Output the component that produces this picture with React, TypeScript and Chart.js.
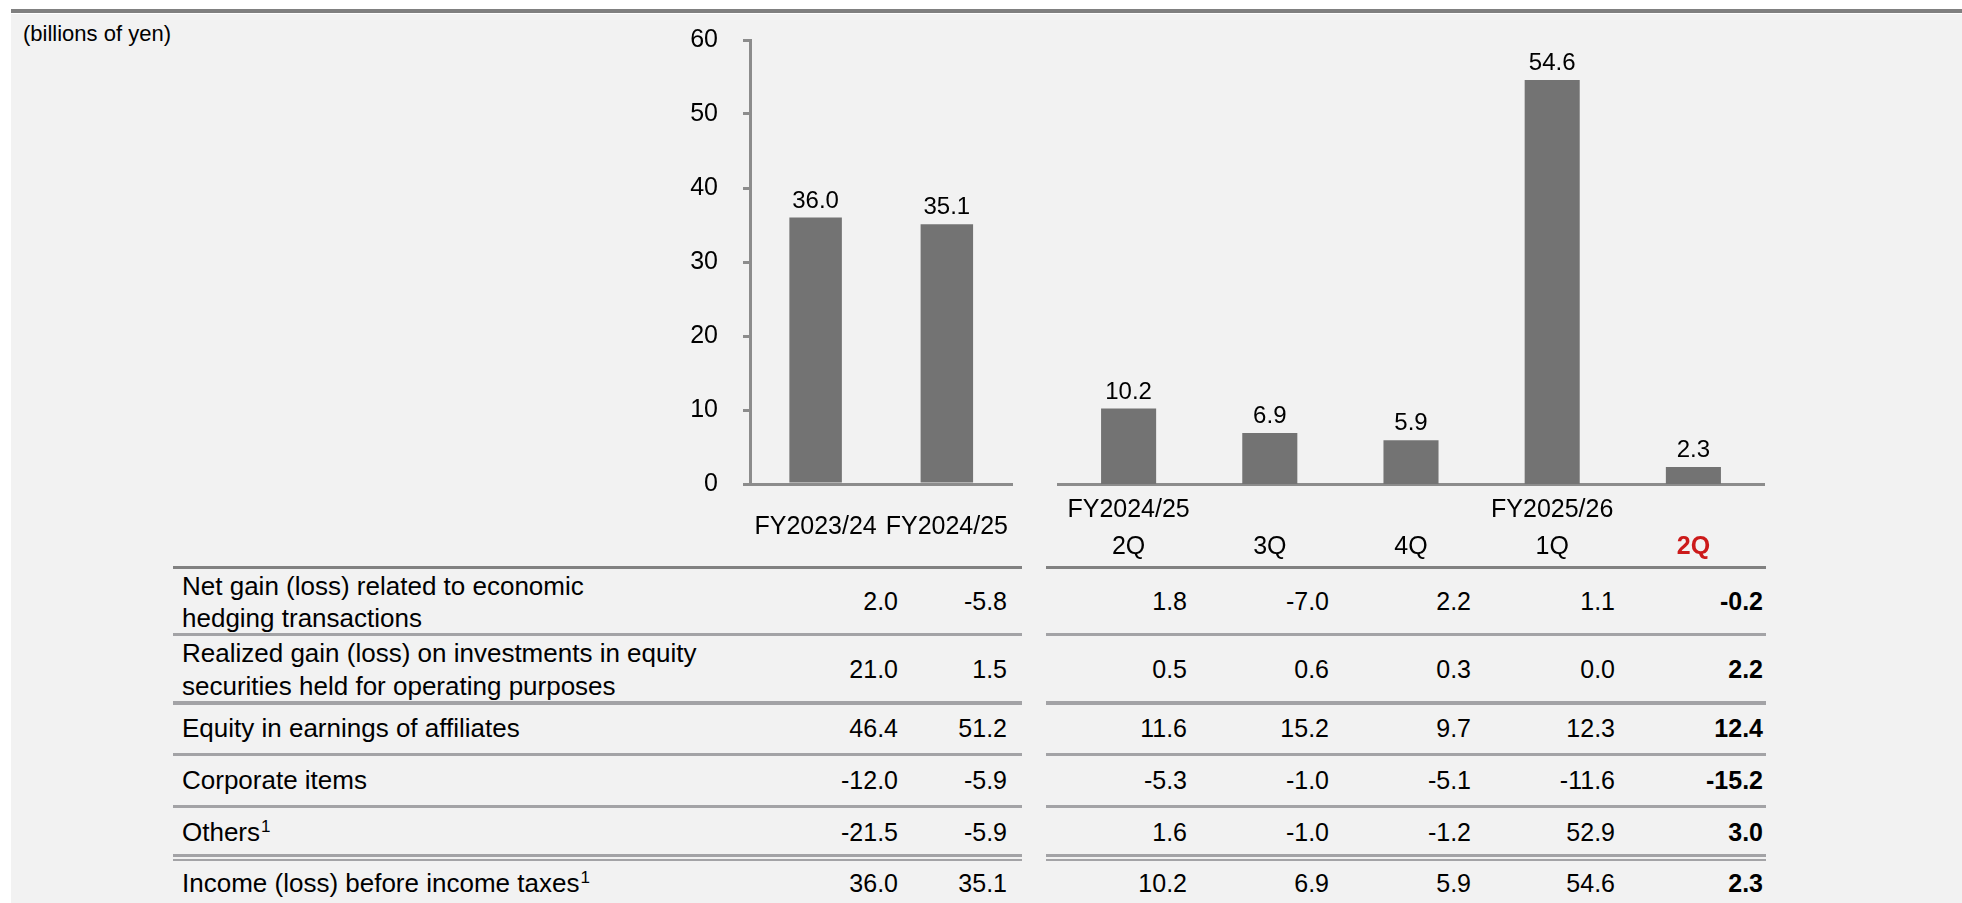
import React, { useEffect, useRef } from "react";
import { Chart, registerables } from "chart.js";

Chart.register(...registerables);

const FONT = "'Liberation Sans', Arial, Helvetica, sans-serif";

// ---- chart data ----
const annualLabels = ["FY2023/24", "FY2024/25"];
const annualValues = [36.0, 35.1];
const quarterLabels = [
  ["FY2024/25", "2Q"],
  ["", "3Q"],
  ["", "4Q"],
  ["FY2025/26", "1Q"],
  ["", "2Q"],
];
const quarterValues = [10.2, 6.9, 5.9, 54.6, 2.3];
const yMin = 0;
const yMax = 60;
const yStep = 10;

// ---- table data ----
const rowLabels = [
  ["Net gain (loss) related to economic", "hedging transactions"],
  ["Realized gain (loss) on investments in equity", "securities held for operating purposes"],
  ["Equity in earnings of affiliates"],
  ["Corporate items"],
  ["Others"],
  ["Income (loss) before income taxes"],
];
const rowNotes = ["", "", "", "", "1", "1"];
const hedgingValues = [2.0, -5.8, 1.8, -7.0, 2.2, 1.1, -0.2];
const realizedValues = [21.0, 1.5, 0.5, 0.6, 0.3, 0.0, 2.2];
const equityValues = [46.4, 51.2, 11.6, 15.2, 9.7, 12.3, 12.4];
const corporateValues = [-12.0, -5.9, -5.3, -1.0, -5.1, -11.6, -15.2];
const othersValues = [-21.5, -5.9, 1.6, -1.0, -1.2, 52.9, 3.0];
const incomeValues = [36.0, 35.1, 10.2, 6.9, 5.9, 54.6, 2.3];
const tableRows = [hedgingValues, realizedValues, equityValues, corporateValues, othersValues, incomeValues];

// ---- layout (positions / styles only) ----
const COL_RIGHT = [898, 1007, 1187, 1329, 1471, 1615, 1763];
const VALUE_CENTER = [601, 669, 728, 780, 832, 883];
const LABEL_CENTERS = [[586, 618], [653, 686], [728], [780], [832], [883]];
const LABEL_X = 182;
const SEG_LEFT = [173, 1022];
const SEG_RIGHT = [1046, 1766];
const RULES = [
  { y: 566, h: 3, c: "#818181" },
  { y: 633, h: 3, c: "#a3a3a6" },
  { y: 701, h: 4, c: "#a3a3a6" },
  { y: 753, h: 3, c: "#a3a3a6" },
  { y: 805, h: 3, c: "#a3a3a6" },
  { y: 854, h: 3, c: "#a3a3a6" },
  { y: 859, h: 2, c: "#a3a3a6" },
];
const AXIS_COLOR = "#8c8c8c";
const BAR_COLOR = "#737373";
const RED = "#cc1a1a";

const valueLabelPlugin = {
  id: "valueLabels",
  afterDatasetsDraw(chart: any) {
    const ctx = chart.ctx;
    chart.data.datasets.forEach((ds: any, di: number) => {
      const meta = chart.getDatasetMeta(di);
      meta.data.forEach((el: any, i: number) => {
        const v = ds.data[i] as number;
        ctx.save();
        ctx.font = `24px ${FONT}`;
        ctx.fillStyle = "#000";
        ctx.textAlign = "center";
        ctx.textBaseline = "alphabetic";
        ctx.fillText(v.toFixed(1), el.x, el.y - 10);
        ctx.restore();
      });
    });
  },
};

function makeChart(
  canvas: HTMLCanvasElement,
  labels: any[],
  values: number[],
  opts: { showY: boolean; padLeft: number; padRight: number; barPct: number; labelPad: number; lineHeight: number; redLast: boolean }
) {
  return new Chart(canvas, {
    type: "bar",
    data: {
      labels,
      datasets: [
        {
          data: values,
          backgroundColor: BAR_COLOR,
          borderWidth: 0,
          barPercentage: opts.barPct,
          categoryPercentage: 1,
        },
      ],
    },
    options: {
      responsive: false,
      maintainAspectRatio: false,
      animation: false,
      events: [],
      layout: { padding: { top: 40, bottom: 0, left: opts.padLeft, right: opts.padRight } },
      plugins: { legend: { display: false }, tooltip: { enabled: false }, title: { display: false } },
      scales: {
        x: {
          type: "category",
          grid: { display: false, drawTicks: false },
          border: { display: true, color: AXIS_COLOR, width: 3 },
          ticks: {
            autoSkip: false,
            maxRotation: 0,
            minRotation: 0,
            padding: opts.labelPad,
            color: (c: any) => (opts.redLast && c.index === labels.length - 1 ? RED : "#000"),
            font: (c: any) => ({
              family: FONT,
              size: 25,
              lineHeight: opts.lineHeight,
              weight: opts.redLast && c.index === labels.length - 1 ? "bold" : "normal",
            }),
          },
          afterFit: (s: any) => {
            s.height = 96;
          },
        },
        y: {
          display: opts.showY,
          min: yMin,
          max: yMax,
          ticks: {
            stepSize: yStep,
            padding: 25,
            color: "#000",
            font: { family: FONT, size: 25 },
          },
          grid: {
            display: true,
            drawOnChartArea: false,
            drawTicks: true,
            tickLength: 7,
            color: AXIS_COLOR,
            lineWidth: 3,
          },
          border: { display: true, color: AXIS_COLOR, width: 3 },
          afterFit: (s: any) => {
            s.width = opts.showY ? 130 : 0;
          },
        },
      },
    },
    plugins: [valueLabelPlugin],
  } as any);
}

function Charts() {
  const leftRef = useRef<HTMLCanvasElement>(null);
  const rightRef = useRef<HTMLCanvasElement>(null);
  useEffect(() => {
    const a = makeChart(leftRef.current!, annualLabels, annualValues, {
      showY: true,
      padLeft: 0,
      padRight: 16,
      barPct: 0.4,
      labelPad: 28,
      lineHeight: 1.2,
      redLast: false,
    });
    const b = makeChart(rightRef.current!, quarterLabels, quarterValues, {
      showY: false,
      padLeft: 18,
      padRight: 36,
      barPct: 0.39,
      labelPad: 8,
      lineHeight: 1.46,
      redLast: true,
    });
    return () => {
      a.destroy();
      b.destroy();
    };
  }, []);
  return (
    <>
      <canvas ref={leftRef} width={420} height={580} style={{ position: "absolute", left: 620, top: 0 }} />
      <canvas ref={rightRef} width={760} height={580} style={{ position: "absolute", left: 1040, top: 0 }} />
    </>
  );
}

function Table() {
  const els: React.ReactNode[] = [];
  RULES.forEach((r, i) => {
    els.push(
      <div key={`rl${i}`} style={{ position: "absolute", left: SEG_LEFT[0], width: SEG_LEFT[1] - SEG_LEFT[0], top: r.y, height: r.h, background: r.c }} />
    );
    els.push(
      <div key={`rr${i}`} style={{ position: "absolute", left: SEG_RIGHT[0], width: SEG_RIGHT[1] - SEG_RIGHT[0], top: r.y, height: r.h, background: r.c }} />
    );
  });
  rowLabels.forEach((lines, ri) => {
    lines.forEach((txt, li) => {
      const isLast = li === lines.length - 1;
      els.push(
        <div
          key={`lab${ri}_${li}`}
          style={{ position: "absolute", left: LABEL_X, top: LABEL_CENTERS[ri][li] - 15, height: 30, lineHeight: "30px", fontSize: 26, whiteSpace: "nowrap" }}
        >
          {txt}
          {isLast && rowNotes[ri] ? (
            <span style={{ fontSize: 17, position: "relative", top: -9, marginLeft: 1 }}>{rowNotes[ri]}</span>
          ) : null}
        </div>
      );
    });
    tableRows[ri].forEach((v, ci) => {
      const bold = ci === tableRows[ri].length - 1;
      els.push(
        <div
          key={`v${ri}_${ci}`}
          style={{
            position: "absolute",
            right: 1962 - COL_RIGHT[ci],
            top: VALUE_CENTER[ri] - 15,
            height: 30,
            lineHeight: "30px",
            fontSize: 25,
            fontWeight: bold ? "bold" : "normal",
            textAlign: "right",
            whiteSpace: "nowrap",
          }}
        >
          {v.toFixed(1)}
        </div>
      );
    });
  });
  return <>{els}</>;
}

export default function App() {
  useEffect(() => {
    document.body.style.margin = "0";
    document.body.style.overflow = "hidden";
  }, []);
  return (
    <div
      style={{
        position: "absolute",
        left: 0,
        top: 0,
        width: 1962,
        height: 903,
        overflow: "hidden",
        background: "#ffffff",
        fontFamily: FONT,
        color: "#000",
      }}
    >
      <div style={{ position: "absolute", left: 11, right: 0, top: 9, height: 4, background: "#808080" }} />
      <div style={{ position: "absolute", left: 11, right: 0, top: 14, bottom: 0, background: "#f2f2f2" }} />
      <div style={{ position: "absolute", left: 23, top: 21, height: 26, lineHeight: "26px", fontSize: 22, whiteSpace: "nowrap" }}>
        (billions of yen)
      </div>
      <Charts />
      <Table />
    </div>
  );
}
